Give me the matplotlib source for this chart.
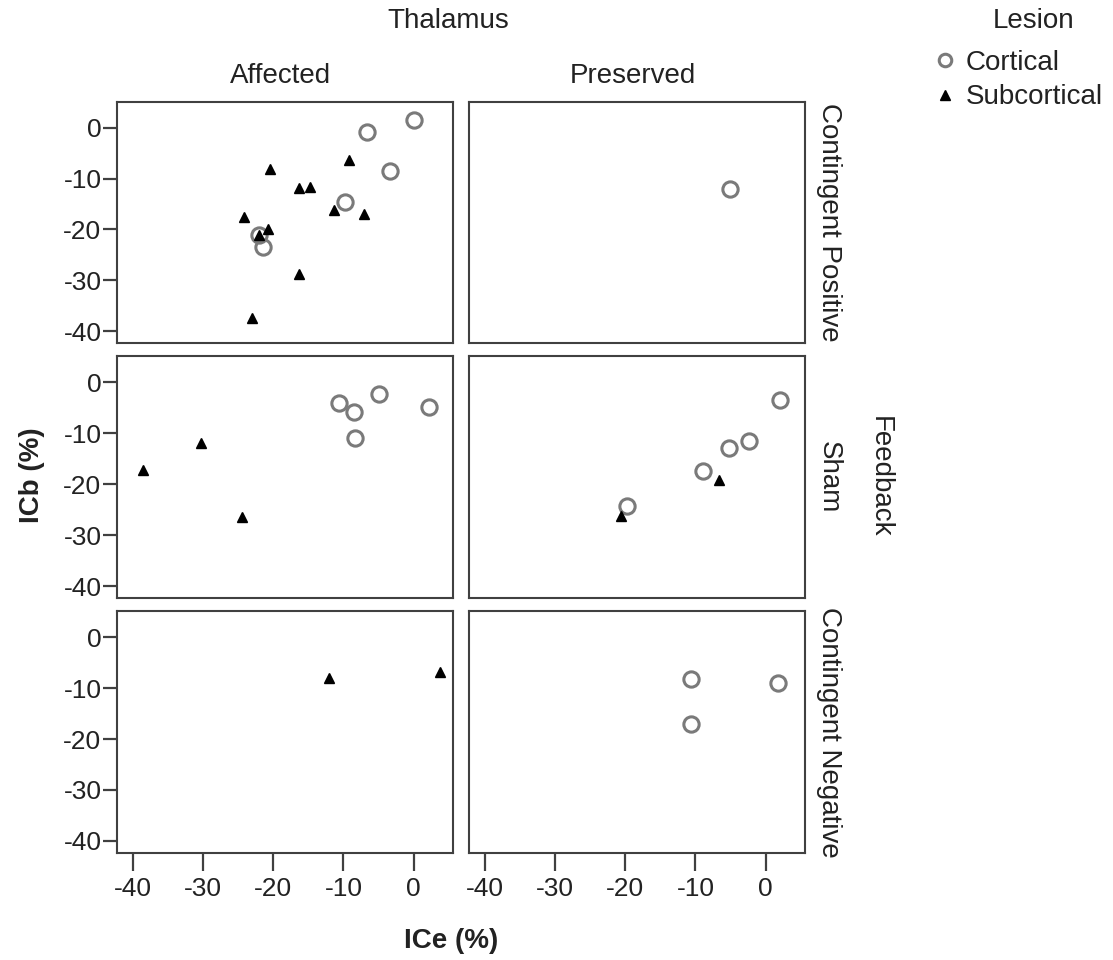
import matplotlib
matplotlib.use("Agg")
import matplotlib.pyplot as plt
from matplotlib.lines import Line2D

plt.rcParams['font.family'] = ['Liberation Sans', 'DejaVu Sans']
plt.rcParams['axes.unicode_minus'] = False

# ---- data (ICe %, ICb %) ----
rows = ["Contingent Positive", "Sham", "Contingent Negative"]
cols = ["Affected", "Preserved"]

# Affected / Contingent Positive
aff_cp_cort_x = [0.1, -6.7, -3.3, -9.8, -22.0, -21.4]
aff_cp_cort_y = [1.5, -0.8, -8.5, -14.6, -21.1, -23.4]
aff_cp_sub_x = [-9.2, -20.5, -16.4, -14.8, -11.4, -7.1, -24.2, -20.8, -22.0, -16.4, -23.0]
aff_cp_sub_y = [-6.4, -8.2, -11.8, -11.6, -16.2, -16.9, -17.6, -19.9, -21.1, -28.7, -37.5]
# Preserved / Contingent Positive
pre_cp_cort_x = [-5.1]
pre_cp_cort_y = [-12.1]
pre_cp_sub_x = []
pre_cp_sub_y = []
# Affected / Sham
aff_sh_cort_x = [-4.9, -10.7, -8.5, 2.2, -8.3]
aff_sh_cort_y = [-2.3, -4.1, -5.9, -4.9, -10.9]
aff_sh_sub_x = [-30.3, -38.5, -24.5]
aff_sh_sub_y = [-11.9, -17.2, -26.4]
# Preserved / Sham
pre_sh_cort_x = [2.0, -2.4, -5.2, -8.9, -19.8]
pre_sh_cort_y = [-3.5, -11.6, -12.8, -17.4, -24.3]
pre_sh_sub_x = [-6.7, -20.6]
pre_sh_sub_y = [-19.2, -26.2]
# Affected / Contingent Negative
aff_cn_cort_x = []
aff_cn_cort_y = []
aff_cn_sub_x = [-12.1, 3.8]
aff_cn_sub_y = [-8.1, -6.9]
# Preserved / Contingent Negative
pre_cn_cort_x = [-10.6, 1.75, -10.6]
pre_cn_cort_y = [-8.3, -8.9, -17.0]
pre_cn_sub_x = []
pre_cn_sub_y = []

panels = [
    [(aff_cp_cort_x, aff_cp_cort_y, aff_cp_sub_x, aff_cp_sub_y),
     (pre_cp_cort_x, pre_cp_cort_y, pre_cp_sub_x, pre_cp_sub_y)],
    [(aff_sh_cort_x, aff_sh_cort_y, aff_sh_sub_x, aff_sh_sub_y),
     (pre_sh_cort_x, pre_sh_cort_y, pre_sh_sub_x, pre_sh_sub_y)],
    [(aff_cn_cort_x, aff_cn_cort_y, aff_cn_sub_x, aff_cn_sub_y),
     (pre_cn_cort_x, pre_cn_cort_y, pre_cn_sub_x, pre_cn_sub_y)],
]

xticks = [-40, -30, -20, -10, 0]
yticks = [0, -10, -20, -30, -40]

W, H = 1113, 960
fig, axes = plt.subplots(3, 2, figsize=(W / 100, H / 100), dpi=100,
                         sharex=True, sharey=True)
fig.subplots_adjust(left=116.7 / W, right=805 / W, top=1 - 101.7 / H,
                    bottom=1 - 853 / H, wspace=0.047, hspace=0.054)

spine_col = '#404040'
circ_col = '#7a7a7a'
fs = 19

for r in range(3):
    for c in range(2):
        ax = axes[r, c]
        cx, cy, sx, sy = panels[r][c]
        ax.plot(cx, cy, linestyle='none', marker='o', markersize=11,
                markerfacecolor='none', markeredgecolor=circ_col,
                markeredgewidth=2.2, zorder=3)
        ax.plot(sx, sy, linestyle='none', marker='^', markersize=7.5,
                color='black', zorder=4)
        ax.set_xlim(-42.3, 5.6)
        ax.set_ylim(-42.4, 5.1)
        ax.set_xticks(xticks)
        ax.set_yticks(yticks)
        for s in ax.spines.values():
            s.set_color(spine_col)
            s.set_linewidth(1.5)
        ax.tick_params(axis='x', length=13, width=1.6, color=spine_col,
                       labelsize=fs, pad=4, labelcolor='#222222',
                       bottom=(r == 2), labelbottom=(r == 2))
        ax.tick_params(axis='y', length=10, width=1.6, color=spine_col,
                       labelsize=fs, pad=1, labelcolor='#222222',
                       left=(c == 0), labelleft=(c == 0))

def px(x, y):
    return x / W, 1 - y / H

tfs = 20
fig.text(*px(448, 21), "Thalamus", ha='center', va='center', fontsize=tfs, color='#222222')
fig.text(*px(281, 76), "Affected", ha='center', va='center', fontsize=tfs, color='#222222')
fig.text(*px(633, 76), "Preserved", ha='center', va='center', fontsize=tfs, color='#222222')
for lbl, yc in zip(rows, [222, 477, 732]):
    fig.text(*px(829, yc), lbl, ha='center', va='center', rotation=-90,
             fontsize=tfs, color='#222222')
fig.text(*px(880, 477), "Feedback", ha='center', va='center', rotation=-90,
         fontsize=tfs, color='#222222')
fig.text(*px(32, 475), "ICb (%)", ha='center', va='center', rotation=90,
         fontsize=tfs, fontweight='bold', color='#222222')
fig.text(*px(451, 941), "ICe (%)", ha='center', va='center',
         fontsize=tfs, fontweight='bold', color='#222222')

# legend
fig.text(*px(1034, 21), "Lesion", ha='center', va='center', fontsize=tfs, color='#222222')
h_c = Line2D([], [], linestyle='none', marker='o', markersize=9,
             markerfacecolor='none', markeredgecolor=circ_col, markeredgewidth=2.2)
h_s = Line2D([], [], linestyle='none', marker='^', markersize=6.5, color='black')
leg = fig.legend([h_c, h_s], ["Cortical", "Subcortical"], loc='upper left',
                 bbox_to_anchor=px(934, 50), frameon=False, fontsize=tfs,
                 handlelength=0.8, handletextpad=0.35, labelspacing=0.3,
                 borderpad=0, borderaxespad=0)
for t in leg.get_texts():
    t.set_color('#222222')

fig.savefig("out.png", dpi=100)
